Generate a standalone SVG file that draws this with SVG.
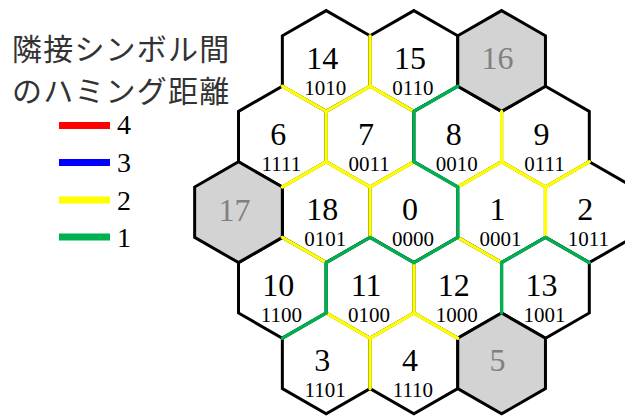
<svg xmlns="http://www.w3.org/2000/svg" width="625" height="416" viewBox="0 0 625 416">
<style>
.hex{fill:#ffffff;stroke:#000000;stroke-width:3;stroke-linejoin:miter}
.gray{fill:#d3d3d3}
.num{font-family:"Liberation Serif","Times New Roman",serif;font-size:32px;text-anchor:middle;fill:#000}
.gnum{fill:#808080}
.code{font-family:"Liberation Serif","Times New Roman",serif;font-size:21px;text-anchor:middle;fill:#000}
.e{stroke-width:3.3;stroke-linecap:round;fill:none}
.y{stroke:#ffff00}
.g{stroke:#00b050}
.title{font-family:"Noto Sans CJK JP",sans-serif;font-size:30px;fill:#333333;letter-spacing:1.2px}
.lg{font-family:"Liberation Serif","Times New Roman",serif;font-size:28px;fill:#000}
</style>
<g id="legend">
<text class="title" x="12" y="60">隣接シンボル間</text>
<text class="title" x="12" y="102">のハミング距離</text>
<line x1="59" y1="125.5" x2="110" y2="125.5" stroke="#ff0000" stroke-width="7"/>
<line x1="59" y1="162.5" x2="110" y2="162.5" stroke="#0000ff" stroke-width="7"/>
<line x1="59" y1="200" x2="110" y2="200" stroke="#ffff00" stroke-width="7"/>
<line x1="59" y1="237" x2="110" y2="237" stroke="#00b050" stroke-width="7"/>
<text class="lg" x="117" y="134">4</text>
<text class="lg" x="117" y="171.5">3</text>
<text class="lg" x="117" y="209.5">2</text>
<text class="lg" x="117" y="247">1</text>
</g>
<g id="hex14"><polygon class="hex" points="326.2,10.6 370.05,35.8 370.05,86.2 326.2,111.4 282.35,86.2 282.35,35.8"/><text class="num" x="322.2" y="69">14</text><text class="code" x="325.2" y="95">1010</text></g>
<g id="hex15"><polygon class="hex" points="413.9,10.6 457.75,35.8 457.75,86.2 413.9,111.4 370.05,86.2 370.05,35.8"/><text class="num" x="409.9" y="69">15</text><text class="code" x="412.9" y="95">0110</text></g>
<g id="hex6"><polygon class="hex" points="282.35,86.2 326.2,111.4 326.2,161.8 282.35,187 238.5,161.8 238.5,111.4"/><text class="num" x="278.35" y="144.6">6</text><text class="code" x="281.35" y="170.6">1111</text></g>
<g id="hex7"><polygon class="hex" points="370.05,86.2 413.9,111.4 413.9,161.8 370.05,187 326.2,161.8 326.2,111.4"/><text class="num" x="366.05" y="144.6">7</text><text class="code" x="369.05" y="170.6">0011</text></g>
<g id="hex8"><polygon class="hex" points="457.75,86.2 501.6,111.4 501.6,161.8 457.75,187 413.9,161.8 413.9,111.4"/><text class="num" x="453.75" y="144.6">8</text><text class="code" x="456.75" y="170.6">0010</text></g>
<g id="hex9"><polygon class="hex" points="545.45,86.2 589.3,111.4 589.3,161.8 545.45,187 501.6,161.8 501.6,111.4"/><text class="num" x="541.45" y="144.6">9</text><text class="code" x="544.45" y="170.6">0111</text></g>
<g id="hex18"><polygon class="hex" points="326.2,161.8 370.05,187 370.05,237.4 326.2,262.6 282.35,237.4 282.35,187"/><text class="num" x="322.2" y="220.2">18</text><text class="code" x="325.2" y="246.2">0101</text></g>
<g id="hex0"><polygon class="hex" points="413.9,161.8 457.75,187 457.75,237.4 413.9,262.6 370.05,237.4 370.05,187"/><text class="num" x="409.9" y="220.2">0</text><text class="code" x="412.9" y="246.2">0000</text></g>
<g id="hex1"><polygon class="hex" points="501.6,161.8 545.45,187 545.45,237.4 501.6,262.6 457.75,237.4 457.75,187"/><text class="num" x="497.6" y="220.2">1</text><text class="code" x="500.6" y="246.2">0001</text></g>
<g id="hex2"><polygon class="hex" points="589.3,161.8 633.15,187 633.15,237.4 589.3,262.6 545.45,237.4 545.45,187"/><text class="num" x="585.3" y="220.2">2</text><text class="code" x="588.3" y="246.2">1011</text></g>
<g id="hex10"><polygon class="hex" points="282.35,237.4 326.2,262.6 326.2,313 282.35,338.2 238.5,313 238.5,262.6"/><text class="num" x="278.35" y="295.8">10</text><text class="code" x="281.35" y="321.8">1100</text></g>
<g id="hex11"><polygon class="hex" points="370.05,237.4 413.9,262.6 413.9,313 370.05,338.2 326.2,313 326.2,262.6"/><text class="num" x="366.05" y="295.8">11</text><text class="code" x="369.05" y="321.8">0100</text></g>
<g id="hex12"><polygon class="hex" points="457.75,237.4 501.6,262.6 501.6,313 457.75,338.2 413.9,313 413.9,262.6"/><text class="num" x="453.75" y="295.8">12</text><text class="code" x="456.75" y="321.8">1000</text></g>
<g id="hex13"><polygon class="hex" points="545.45,237.4 589.3,262.6 589.3,313 545.45,338.2 501.6,313 501.6,262.6"/><text class="num" x="541.45" y="295.8">13</text><text class="code" x="544.45" y="321.8">1001</text></g>
<g id="hex3"><polygon class="hex" points="326.2,313 370.05,338.2 370.05,388.6 326.2,413.8 282.35,388.6 282.35,338.2"/><text class="num" x="322.2" y="371.4">3</text><text class="code" x="325.2" y="397.4">1101</text></g>
<g id="hex4"><polygon class="hex" points="413.9,313 457.75,338.2 457.75,388.6 413.9,413.8 370.05,388.6 370.05,338.2"/><text class="num" x="409.9" y="371.4">4</text><text class="code" x="412.9" y="397.4">1110</text></g>
<g id="hex16"><polygon class="hex gray" points="501.6,10.6 545.45,35.8 545.45,86.2 501.6,111.4 457.75,86.2 457.75,35.8"/><text class="num gnum" x="497.6" y="69">16</text></g>
<g id="hex17"><polygon class="hex gray" points="238.5,161.8 282.35,187 282.35,237.4 238.5,262.6 194.65,237.4 194.65,187"/><text class="num gnum" x="234.5" y="220.7">17</text></g>
<g id="hex5"><polygon class="hex gray" points="501.6,313 545.45,338.2 545.45,388.6 501.6,413.8 457.75,388.6 457.75,338.2"/><text class="num gnum" x="497.6" y="371.4">5</text></g>
<g id="connectors">
<g class="e y">
<line x1="370.05" y1="35.8" x2="370.05" y2="86.2"/>
<line x1="326.2" y1="111.4" x2="282.35" y2="86.2"/>
<line x1="370.05" y1="86.2" x2="326.2" y2="111.4"/>
<line x1="413.9" y1="111.4" x2="370.05" y2="86.2"/>
<line x1="326.2" y1="111.4" x2="326.2" y2="161.8"/>
<line x1="501.6" y1="111.4" x2="501.6" y2="161.8"/>
<line x1="326.2" y1="161.8" x2="282.35" y2="187"/>
<line x1="370.05" y1="187" x2="326.2" y2="161.8"/>
<line x1="413.9" y1="161.8" x2="370.05" y2="187"/>
<line x1="501.6" y1="161.8" x2="457.75" y2="187"/>
<line x1="545.45" y1="187" x2="501.6" y2="161.8"/>
<line x1="589.3" y1="161.8" x2="545.45" y2="187"/>
<line x1="370.05" y1="187" x2="370.05" y2="237.4"/>
<line x1="545.45" y1="187" x2="545.45" y2="237.4"/>
<line x1="326.2" y1="262.6" x2="282.35" y2="237.4"/>
<line x1="501.6" y1="262.6" x2="457.75" y2="237.4"/>
<line x1="413.9" y1="262.6" x2="413.9" y2="313"/>
<line x1="370.05" y1="338.2" x2="326.2" y2="313"/>
<line x1="413.9" y1="313" x2="370.05" y2="338.2"/>
<line x1="457.75" y1="338.2" x2="413.9" y2="313"/>
<line x1="370.05" y1="338.2" x2="370.05" y2="388.6"/>
</g>
<g class="e g">
<line x1="457.75" y1="86.2" x2="413.9" y2="111.4"/>
<line x1="413.9" y1="111.4" x2="413.9" y2="161.8"/>
<line x1="457.75" y1="187" x2="413.9" y2="161.8"/>
<line x1="457.75" y1="187" x2="457.75" y2="237.4"/>
<line x1="370.05" y1="237.4" x2="326.2" y2="262.6"/>
<line x1="413.9" y1="262.6" x2="370.05" y2="237.4"/>
<line x1="457.75" y1="237.4" x2="413.9" y2="262.6"/>
<line x1="545.45" y1="237.4" x2="501.6" y2="262.6"/>
<line x1="589.3" y1="262.6" x2="545.45" y2="237.4"/>
<line x1="326.2" y1="262.6" x2="326.2" y2="313"/>
<line x1="501.6" y1="262.6" x2="501.6" y2="313"/>
<line x1="326.2" y1="313" x2="282.35" y2="338.2"/>
</g>
</g>
</svg>
